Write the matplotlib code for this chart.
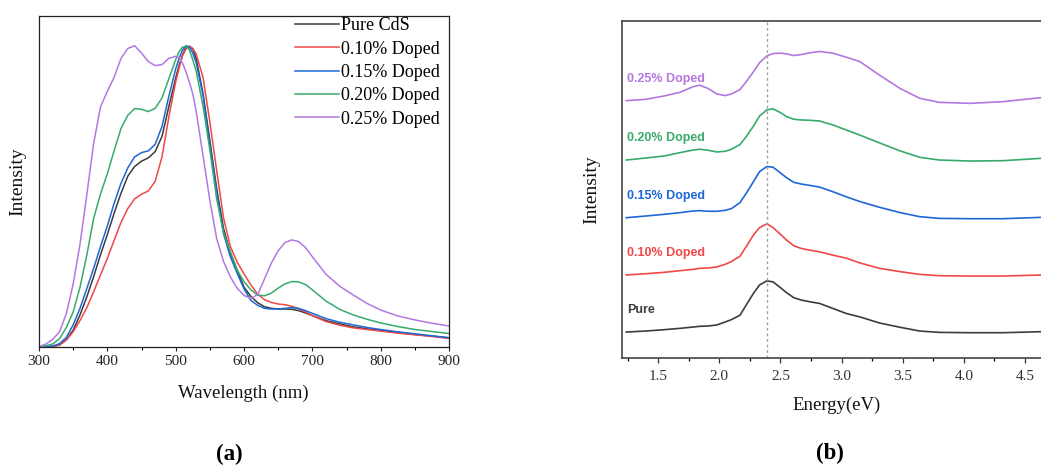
import numpy as np
import matplotlib
matplotlib.use("Agg")
import matplotlib.pyplot as plt
from matplotlib.ticker import MultipleLocator

# ---------------- Panel (a): PL spectra ----------------
wavelength = [300, 310, 320, 330, 340, 350, 360, 370, 380, 390, 400, 410, 420, 430, 440,
              450, 460, 470, 480, 490, 500, 505, 510, 515, 520, 525, 530, 540, 550, 560,
              570, 580, 590, 600, 610, 620, 630, 640, 650, 660, 670, 680, 690, 700, 720,
              740, 760, 780, 800, 825, 850, 875, 900]

pure_cds = [0, 0, .001, .005, .021, .05, .096, .151, .212, .278, .339, .404, .464, .516, .545,
            .561, .571, .59, .636, .726, .812, .851, .882, .905, .908, .90, .872, .766, .624, .478,
            .358, .283, .232, .18, .152, .133, .121, .116, .114, .114, .113, .109, .102, .094, .079,
            .069, .060, .054, .049, .043, .037, .032, .027]
doped_010 = [0, 0, 0, .005, .02, .045, .079, .118, .166, .217, .267, .322, .376, .418, .447,
             .461, .471, .50, .574, .695, .800, .842, .88, .90, .909, .902, .885, .815, .68, .533,
             .39, .303, .256, .22, .187, .159, .142, .134, .129, .127, .122, .115, .105, .094, .076,
             .065, .057, .052, .047, .041, .036, .031, .025]
doped_015 = [0, 0, .002, .009, .028, .066, .116, .176, .237, .303, .365, .434, .494, .541, .574,
             .587, .592, .612, .666, .757, .84, .872, .897, .91, .906, .888, .859, .76, .61, .469,
             .342, .272, .222, .175, .14, .125, .116, .114, .114, .116, .118, .116, .109, .101, .085,
             .074, .066, .058, .052, .045, .039, .033, .027]
doped_020 = [0, .003, .008, .024, .058, .105, .18, .277, .388, .462, .523, .593, .66, .70, .72,
             .718, .711, .721, .752, .81, .868, .892, .906, .908, .898, .868, .833, .728, .595, .447,
             .345, .288, .232, .197, .172, .156, .154, .162, .177, .19, .197, .196, .188, .172, .138,
             .113, .096, .083, .072, .061, .052, .046, .04]
doped_025 = [0, .008, .022, .045, .10, .19, .31, .46, .615, .725, .772, .815, .872, .902, .91,
             .888, .862, .85, .853, .872, .878, .874, .858, .832, .80, .765, .712, .578, .443, .327,
             .258, .211, .177, .155, .146, .158, .205, .253, .29, .315, .323, .318, .30, .272, .219,
             .183, .156, .131, .111, .093, .081, .071, .0625]

series_a_labels = ["Pure CdS", "0.10% Doped", "0.15% Doped", "0.20% Doped", "0.25% Doped"]
series_a = [pure_cds, doped_010, doped_015, doped_020, doped_025]
colors = ["#3c3c3c", "#f04848", "#1d68d6", "#38aa6c", "#b278e0"]

wl_ticks = [300, 400, 500, 600, 700, 800, 900]

# ---------------- Panel (b): energy spectra (stacked) ----------------
energy = [1.24, 1.40, 1.55, 1.68, 1.79, 1.84, 1.91, 1.98, 2.05, 2.10, 2.17, 2.22, 2.28, 2.33,
          2.39, 2.44, 2.50, 2.55, 2.61, 2.67, 2.74, 2.82, 2.93, 3.04, 3.15, 3.31, 3.48, 3.64,
          3.80, 4.05, 4.32, 4.63]

e_pure = [0, .003, .007, .011, .015, .017, .018, .021, .030, .037, .050, .080, .115, .140,
          .152, .149, .132, .117, .102, .095, .090, .085, .070, .055, .045, .027, .014, .003,
          -.001, -.002, -.002, .001]
e_010 = [0, .004, .008, .013, .017, .020, .021, .024, .032, .040, .056, .084, .119, .141,
         .152, .141, .121, .104, .087, .079, .074, .069, .059, .050, .036, .020, .010, .002,
         -.002, -.003, -.003, 0]
e_015 = [0, .005, .010, .015, .020, .021, .019, .019, .022, .027, .045, .072, .107, .137,
         .152, .150, .133, .119, .105, .100, .096, .091, .077, .062, .048, .031, .015, .003,
         -.002, -.003, -.003, .001]
e_020 = [0, .006, .012, .022, .030, .032, .029, .024, .026, .032, .046, .069, .101, .131,
         .149, .152, .141, .129, .121, .119, .118, .116, .104, .089, .074, .051, .027, .008,
         0, -.003, -.002, .005]
e_025 = [0, .004, .014, .025, .042, .046, .036, .020, .015, .020, .033, .056, .086, .113,
         .133, .140, .141, .139, .134, .137, .142, .146, .141, .129, .116, .076, .036, .007,
         -.005, -.008, -.003, .009]

series_b_labels = ["Pure", "0.10% Doped", "0.15% Doped", "0.20% Doped", "0.25% Doped"]
series_b = [e_pure, e_010, e_015, e_020, e_025]
offsets_b = [0.0762, 0.2455, 0.4158, 0.5871, 0.7634]
label_gap_b = 0.065
marker_energy = 2.39
e_major = [1.5, 2.0, 2.5, 3.0, 3.5, 4.0, 4.5]

# ---------------- Figure ----------------
serif = ["Liberation Serif", "DejaVu Serif"]
plt.rcParams["font.family"] = serif

fig = plt.figure(figsize=(10.41, 4.66), dpi=100)

# ---- (a)
axa = fig.add_axes([39 / 1041, 1 - 346.7 / 466, 410 / 1041, (346.7 - 16) / 466])
for vals, lab, c in zip(series_a, series_a_labels, colors):
    axa.plot(wavelength, vals, color=c, lw=1.1, label=lab)
axa.set_xlim(300, 900)
axa.set_ylim(0, 1)
axa.set_yticks([])
axa.set_xticks(wl_ticks)
axa.xaxis.set_minor_locator(MultipleLocator(50))
axa.tick_params(axis="x", which="major", direction="out", length=3, width=0.8,
                labelsize=11, pad=3.2, colors="#222222")
axa.tick_params(axis="x", which="minor", direction="out", length=2, width=0.8)
for s in axa.spines.values():
    s.set_linewidth(0.9)
    s.set_color("#222222")
axa.set_xlabel("Wavelength (nm)", fontsize=13.5, va="center", color="#111111")
axa.xaxis.set_label_coords(0.499, -0.14)
axa.set_ylabel("Intensity", fontsize=14, va="center", color="#111111")
axa.yaxis.set_label_coords(-0.051, 0.5)
axa.legend(loc="upper left", bbox_to_anchor=(0.624, 0.9965), frameon=False,
           fontsize=13, handlelength=2.44, handletextpad=0.12, labelspacing=0.355,
           borderpad=0, borderaxespad=0)

# ---- (b)
axb = fig.add_axes([622 / 1041, 1 - 357.7 / 466, 419 / 1041, (357.7 - 21) / 466])
for vals, lab, c, off in zip(series_b, series_b_labels, colors, offsets_b):
    y = np.asarray(vals) + off
    axb.plot(energy, y, color=c, lw=1.2)
    axb.text(1.247, off + label_gap_b, lab, color=c, fontsize=9, fontweight="bold",
             family=["Liberation Sans", "DejaVu Sans"], ha="left", va="center")
axb.axvline(marker_energy, color="#a0a0a0", lw=1.0, ls=(0, (2, 2)))
axb.set_xlim(1.205, 4.631)
axb.set_ylim(0, 1)
axb.set_yticks([])
axb.set_xticks(e_major)
axb.xaxis.set_minor_locator(MultipleLocator(0.25))
axb.tick_params(axis="x", which="major", direction="out", length=3.6, width=0.9,
                labelsize=11, pad=5.2, colors="#333333")
axb.tick_params(axis="x", which="minor", direction="out", length=2.2, width=0.9)
axb.spines["right"].set_visible(False)
for k in ["left", "bottom", "top"]:
    axb.spines[k].set_linewidth(1.2)
    axb.spines[k].set_color("#444444")
axb.set_xlabel("Energy(eV)", fontsize=13.5, va="center", color="#111111")
axb.xaxis.set_label_coords(0.513, -0.1405)
axb.set_ylabel("Intensity", fontsize=14, va="center", color="#111111")
axb.yaxis.set_label_coords(-0.0716, 0.5)

fig.text(229 / 1041, 1 - 454 / 466, "(a)", fontsize=16.5, fontweight="bold",
         ha="center", va="center")
fig.text(830 / 1041, 1 - 453 / 466, "(b)", fontsize=16.5, fontweight="bold",
         ha="center", va="center")

fig.savefig("out.png", dpi=100)
